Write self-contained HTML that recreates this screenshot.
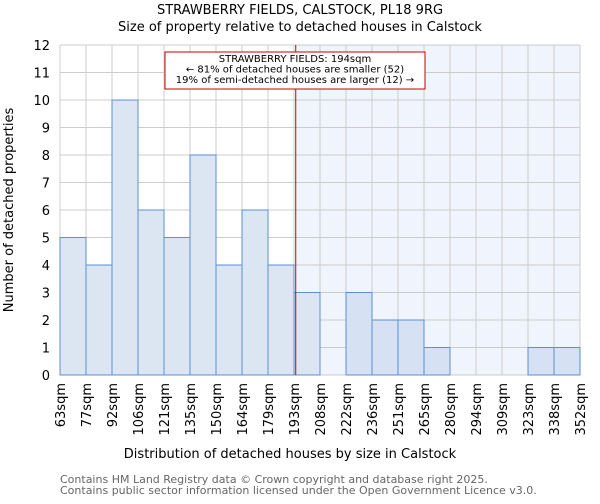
<!DOCTYPE html>
<html><head><meta charset="utf-8"><style>
body{margin:0;background:#fff;font-family:"DejaVu Sans","Liberation Sans",sans-serif}
</style></head><body>
<svg id="c" width="600" height="500" xmlns="http://www.w3.org/2000/svg">
<text x="300" y="14" text-anchor="middle" font-size="13">STRAWBERRY FIELDS, CALSTOCK, PL18 9RG</text>
<text x="300" y="31" text-anchor="middle" font-size="13">Size of property relative to detached houses in Calstock</text>
<g id="plot"></g>
<text x="290" y="458" text-anchor="middle" font-size="13">Distribution of detached houses by size in Calstock</text>
<text transform="translate(13,210) rotate(-90)" text-anchor="middle" font-size="13">Number of detached properties</text>
<text x="60" y="483" font-size="11" fill="#666">Contains HM Land Registry data © Crown copyright and database right 2025.</text>
<text x="60" y="494" font-size="11" fill="#666">Contains public sector information licensed under the Open Government Licence v3.0.</text>
</svg>
<script>
const binLabels=["63sqm","77sqm","92sqm","106sqm","121sqm","135sqm","150sqm","164sqm","179sqm","193sqm","208sqm","222sqm","236sqm","251sqm","265sqm","280sqm","294sqm","309sqm","323sqm","338sqm","352sqm"];
const counts=[5,4,10,6,5,8,4,6,4,3,0,3,2,2,1,0,0,0,1,1];
const yTicks=[0,1,2,3,4,5,6,7,8,9,10,11,12];
const subjectSize=194;
const binStarts=[63,77,92,106,121,135,150,164,179,193,208,222,236,251,265,280,294,309,323,338,352];
const NS="http://www.w3.org/2000/svg";
const L=60,R=580,T=45,B=375,yMax=12;
const n=counts.length,bw=(R-L)/n;
const xs=i=>L+i*bw;
const ys=v=>B-v/yMax*(B-T);
function sizeX(s){for(let i=0;i<n;i++){if(s>=binStarts[i]&&s<=binStarts[i+1])return xs(i)+(s-binStarts[i])/(binStarts[i+1]-binStarts[i])*bw;}return R;}
const g=document.getElementById('plot');
function mk(t,a,p){const e=document.createElementNS(NS,t);for(const k in a)e.setAttribute(k,a[k]);(p||g).appendChild(e);return e;}
const sx=sizeX(subjectSize);
let e=mk('rect',{x:sx,y:T,width:R-sx,height:B-T,fill:'#f0f4fc'});


for(let i=0;i<=n;i++){e=mk('line',{x1:xs(i),x2:xs(i),y1:T,y2:B,stroke:'#cccccc','stroke-width':1});

}
yTicks.forEach(v=>{e=mk('line',{x1:L,x2:R,y1:ys(v),y2:ys(v),stroke:'#cccccc','stroke-width':1});


e=mk('text',{x:L-10,y:ys(v)+5,'text-anchor':'end','font-size':13});e.textContent=v;

});
counts.forEach((c,i)=>{if(c<=0)return;const right=xs(i)>=sx-1;
e=mk('rect',{x:xs(i),y:ys(c),width:bw,height:B-ys(c),fill:right?'#d6e1f3':'#dce6f3',stroke:'#5b8fd6','stroke-width':1});

});
binLabels.forEach((lb,i)=>{const x=xs(i);e=mk('text',{transform:`translate(${x+5},${B+8}) rotate(-90)`,'text-anchor':'end','font-size':13});e.textContent=lb;

});
e=mk('line',{x1:sx,x2:sx,y1:T,y2:B,stroke:'#cc0000','stroke-width':1});


e=mk('rect',{x:165,y:52,width:260,height:37,fill:'#fff',stroke:'#cc0000','stroke-width':1});


["STRAWBERRY FIELDS: 194sqm","← 81% of detached houses are smaller (52)","19% of semi-detached houses are larger (12) →"].forEach((t,k)=>{
e=mk('text',{x:295,y:62+k*10.5,'text-anchor':'middle','font-size':10});e.textContent=t;

});
</script>
</body></html>
